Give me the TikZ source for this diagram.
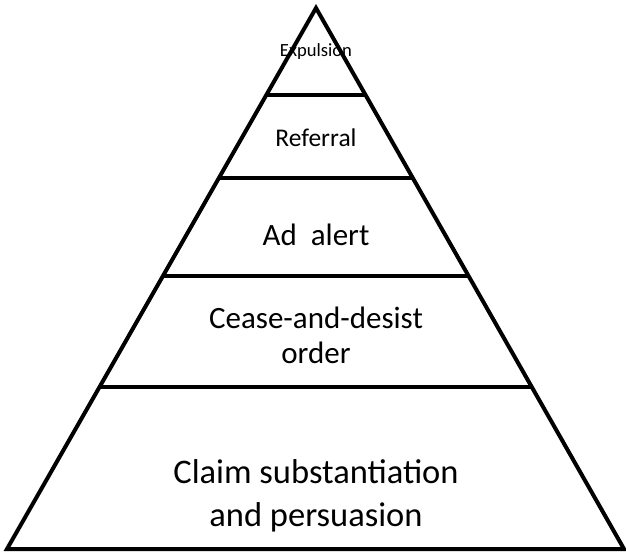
\documentclass[tikz,border=0pt]{standalone}
\usepackage{fontspec}
\setmainfont{Carlito}
\usetikzlibrary{calc}
\tikzset{
	pyramid/.style = {draw=black, line width=4pt, line join=miter},
	tier/.style = {draw=black, line width=4pt},
	caption/.style = {align=center, inner sep=0pt, text=black}
}

\begin{document}
\begin{tikzpicture}[
    x=1pt,
    y=-1pt,
    small_caption/.style={
        caption,
        font=\fontsize{18.6}{22}\selectfont
        },
    mid_caption/.style={
        caption,
        font=\fontsize{31}{35}\selectfont
        },
    big_caption/.style={
        caption,
        font=\fontsize{34.5}{43}\selectfont
        }]
		\useasboundingbox (0,0) rectangle (626,553);

		\coordinate (top) at (316,8);
		\coordinate (left) at (7,549);
		\coordinate (right) at (624,549);

		\path (top) -- (left) coordinate[pos=0.161] (l1) coordinate[pos=0.314] (l2)
			coordinate[pos=0.495] (l3) coordinate[pos=0.701] (l4);
		\path (top) -- (right) coordinate[pos=0.161] (r1) coordinate[pos=0.314] (r2)
			coordinate[pos=0.495] (r3) coordinate[pos=0.701] (r4);

		\draw[pyramid] (top) -- (left) -- (right) -- cycle;
		\draw[tier] (l1) -- (r1);
		\draw[tier] (l2) -- (r2);
		\draw[tier] (l3) -- (r3);
		\draw[tier] (l4) -- (r4);

		\node[small_caption] (expulsion) at (316,52) {Expulsion};
		\node[caption, font=\fontsize{25.5}{30}\selectfont] (referral) at (316,138) {Referral};
		\node[mid_caption] (adalert) at (316,235) {Ad\ \ alert};
		\node[mid_caption] (cease) at (316,335) {Cease-and-desist\\order};
		\node[big_caption] (claim) at (316,496) {Claim substantiation\\and persuasion};
\end{tikzpicture}
\end{document}
